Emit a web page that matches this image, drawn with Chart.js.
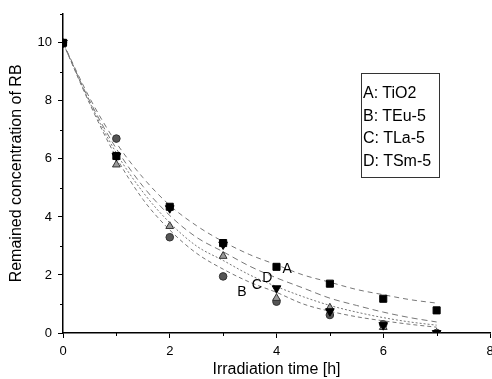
<!DOCTYPE html>
<html>
<head>
<meta charset="utf-8">
<script src="https://cdn.jsdelivr.net/npm/chart.js@4/dist/chart.umd.min.js"></script>
<style>
    body { margin: 0; overflow: hidden; background: #fff; width: 492px; height: 379px; position: relative; }
    #rbChart { display: block; }
    #legendBox {
        position: absolute; left: 361px; top: 73px; width: 79px; height: 105px;
        box-sizing: border-box; border: 1px solid #333; padding: 8px 0 0 1px;
        font: 16px "Liberation Sans", Arial, sans-serif; line-height: 22.5px; color: #000;
    }
</style>
</head>
<body>
<canvas id="rbChart" width="500" height="379"></canvas>
<div id="legendBox">
    <div>A: TiO2</div>
    <div>B: TEu-5</div>
    <div>C: TLa-5</div>
    <div>D: TSm-5</div>
</div>
<script>
// Measured points (irradiation time in h)
const hours = [0, 1, 2, 3, 4, 5, 6, 7];
const tio2 = [10, 6.1, 4.35, 3.1, 2.28, 1.7, 1.18, 0.78];
const teu5 = [10, 6.7, 3.3, 1.95, 1.08, 0.62, 0.3, 0];
const tla5 = [10, 5.8, 3.68, 2.65, 1.2, 0.87, 0.2, 0];
const tsm5 = [10, 6.1, 4.3, 3.05, 1.54, 0.75, 0.27, 0];

// Fitted curves
const fitHours = [0, 0.5, 1, 1.5, 2, 2.5, 3, 3.5, 4, 4.5, 5, 5.5, 6, 6.5, 7];
const fitA = [10, 8.1, 6.55, 5.35, 4.4, 3.7, 3.15, 2.7, 2.35, 2.0, 1.75, 1.5, 1.32, 1.15, 1.03];
const fitB = [10, 7.9, 6.05, 4.6, 3.55, 2.75, 2.2, 1.75, 1.4, 1.0, 0.75, 0.56, 0.42, 0.3, 0.2];
const fitC = [10, 7.95, 6.2, 4.85, 3.8, 3.0, 2.5, 2.0, 1.6, 1.25, 0.95, 0.72, 0.53, 0.38, 0.27];
const fitD = [10, 8.0, 6.35, 5.05, 4.05, 3.3, 2.8, 2.3, 1.9, 1.55, 1.2, 0.95, 0.72, 0.53, 0.38];

const xMinorTicks = [1, 3, 5, 7];
const yMinorTicks = [1, 3, 5, 7, 9, 11];

// Curve letters next to the fits
const curveLetters = ['A', 'B', 'C', 'D'];
const letterX = [4.2, 3.35, 3.63, 3.83];
const letterY = [2.2, 1.4, 1.64, 1.88];

const FONT = '"Liberation Sans", Arial, sans-serif';

function toPoints(xs, ys) {
    return xs.map((x, i) => ({ x: x, y: ys[i] }));
}

function fitLine(ys, dash) {
    return {
        data: toPoints(fitHours, ys),
        showLine: true,
        borderColor: '#777',
        borderWidth: 1,
        borderDash: dash,
        pointRadius: 0,
        cubicInterpolationMode: 'monotone',
        order: 2
    };
}

function markers(ys, style, radius, fill, edge, rotation) {
    return {
        data: toPoints(hours, ys),
        showLine: false,
        pointStyle: style,
        pointRadius: radius,
        pointRotation: rotation || 0,
        backgroundColor: fill,
        borderColor: edge,
        borderWidth: 1,
        order: 1
    };
}

const extrasPlugin = {
    id: 'extras',
    afterDraw(chart) {
        const ctx = chart.ctx;
        const xs = chart.scales.x;
        const ys = chart.scales.y;
        ctx.save();
        ctx.strokeStyle = '#000';
        ctx.lineWidth = 1;
        // minor ticks
        xMinorTicks.forEach(v => {
            const px = Math.round(xs.getPixelForValue(v)) + 0.5;
            ctx.beginPath();
            ctx.moveTo(px, ys.bottom);
            ctx.lineTo(px, ys.bottom + 3);
            ctx.stroke();
        });
        yMinorTicks.forEach(v => {
            const py = Math.round(ys.getPixelForValue(v)) + 0.5;
            ctx.beginPath();
            ctx.moveTo(xs.left, py);
            ctx.lineTo(xs.left - 3, py);
            ctx.stroke();
        });
        // curve letters
        ctx.fillStyle = '#000';
        ctx.font = '14px ' + FONT;
        ctx.textAlign = 'center';
        ctx.textBaseline = 'middle';
        curveLetters.forEach((t, i) => {
            ctx.fillText(t, xs.getPixelForValue(letterX[i]), ys.getPixelForValue(letterY[i]));
        });
        ctx.restore();
    }
};

new Chart(document.getElementById('rbChart'), {
    type: 'scatter',
    data: {
        datasets: [
            fitLine(fitA, [5, 4]),
            fitLine(fitB, [4, 3]),
            fitLine(fitC, [2, 2]),
            fitLine(fitD, [6, 4]),
            markers(tio2, 'rect', 5, '#000', '#000'),
            markers(tsm5, 'triangle', 5, '#000', '#000', 180),
            markers(tla5, 'triangle', 4.5, '#999', '#333'),
            markers(teu5, 'circle', 3.8, '#555', '#333')
        ]
    },
    options: {
        responsive: false,
        animation: false,
        layout: { padding: { top: 12, right: 10, left: 0, bottom: 0 } },
        plugins: {
            legend: { display: false },
            tooltip: { enabled: false }
        },
        scales: {
            x: {
                type: 'linear',
                min: 0,
                max: 8,
                afterFit: s => { s.height = 46; },
                border: { color: '#000', width: 1.5 },
                grid: { drawOnChartArea: false, drawTicks: true, tickLength: 5, tickColor: '#000' },
                ticks: { stepSize: 2, color: '#000', padding: 6, font: { family: FONT, size: 13 } },
                title: {
                    display: true,
                    text: 'Irradiation time [h]',
                    color: '#000',
                    padding: { top: 0, bottom: 1 },
                    font: { family: FONT, size: 16, lineHeight: 1 }
                }
            },
            y: {
                type: 'linear',
                min: 0,
                max: 11,
                afterFit: s => { s.width = 63; },
                afterBuildTicks: s => { s.ticks = s.ticks.filter(t => t.value % 2 === 0); },
                border: { color: '#000', width: 1.5 },
                grid: { drawOnChartArea: false, drawTicks: true, tickLength: 5, tickColor: '#000' },
                ticks: { stepSize: 2, color: '#000', padding: 6, font: { family: FONT, size: 13 } },
                title: {
                    display: true,
                    text: 'Remained concentration of RB',
                    color: '#000',
                    padding: { top: 7, bottom: 0 },
                    font: { family: FONT, size: 16, lineHeight: 1.2 }
                }
            }
        }
    },
    plugins: [extrasPlugin]
});
</script>
</body>
</html>
